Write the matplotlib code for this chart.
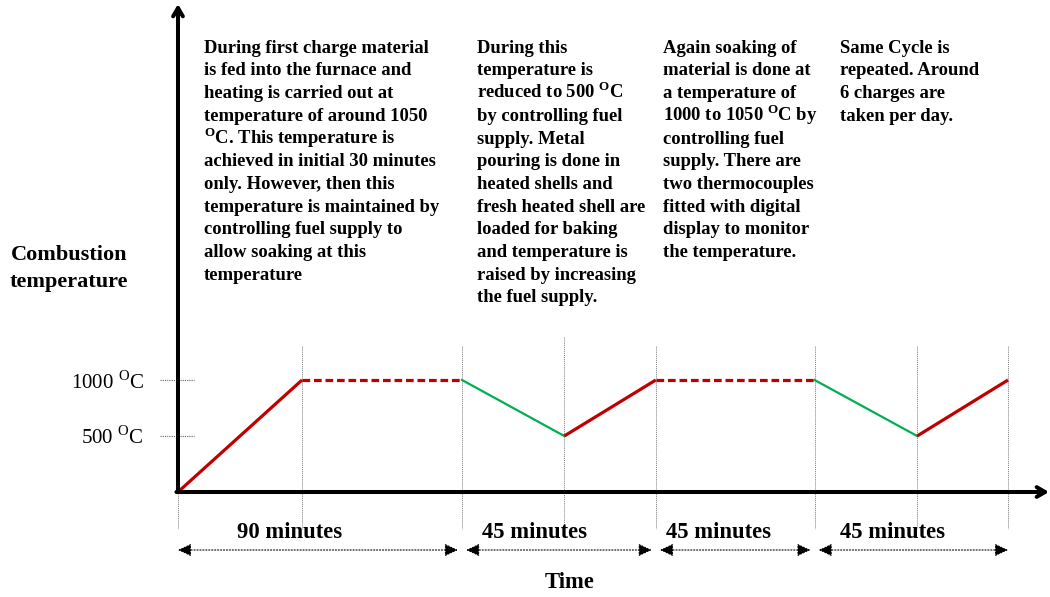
import matplotlib.pyplot as plt

plt.rcParams['font.family'] = 'Liberation Serif'
plt.rcParams['mathtext.fontset'] = 'custom'
plt.rcParams['mathtext.rm'] = 'Liberation Serif'
plt.rcParams['mathtext.bf'] = 'Liberation Serif:bold'

# schematic furnace cycle (time in minutes, temperature in deg C)
times = [0, 39.3, 90, 122.4, 151.4, 201.7, 234.2, 263.0]
temps = [0, 1000, 1000, 500, 1000, 1000, 500, 1000]
phases = ['heat', 'soak', 'cool', 'heat', 'soak', 'cool', 'heat']

span_edges = [0, 90, 151.4, 201.7, 263.0]
span_labels = ['90 minutes', '45 minutes', '45 minutes', '45 minutes']
span_label_x = [290, 535, 719, 892]  # pixel centres of the labels

temp_ticks = [1000, 500]
temp_tick_labels = ['1000 $^{\\mathrm{O}}$C', '500 $^{\\mathrm{O}}$C']

notes = [
    ["During first charge material",
     "is fed into the furnace and",
     "heating is carried out at",
     "temperature of around 1050",
     "$^{\\mathbf{O}}$C. This temperature is",
     "achieved in initial 30 minutes",
     "only. However, then this",
     "temperature is maintained by",
     "controlling fuel supply to",
     "allow soaking at this",
     "temperature"],
    ["During this",
     "temperature is",
     "reduced to 500 $^{\\mathbf{O}}$C",
     "by controlling fuel",
     "supply. Metal",
     "pouring is done in",
     "heated shells and",
     "fresh heated shell are",
     "loaded for baking",
     "and temperature is",
     "raised by increasing",
     "the fuel supply."],
    ["Again soaking of",
     "material is done at",
     "a temperature of",
     "1000 to 1050 $^{\\mathbf{O}}$C by",
     "controlling fuel",
     "supply. There are",
     "two thermocouples",
     "fitted with digital",
     "display to monitor",
     "the temperature."],
    ["Same Cycle is",
     "repeated. Around",
     "6 charges are",
     "taken per day."],
]
note_x = [204, 477, 663, 840]

W, H = 1050, 597
fig = plt.figure(figsize=(W / 100, H / 100), dpi=100)
ax = fig.add_axes([0, 0, 1, 1])
px_per_min = 3.156
px_per_deg = 0.112
x0, y0 = 178, 492
ax.set_xlim(-x0 / px_per_min, (W - x0) / px_per_min)
ax.set_ylim((y0 - H) / px_per_deg, y0 / px_per_deg)
ax.axis('off')


def fx(px):
    return px / W


def fy(py):
    return 1 - py / H


# guide lines
for i, t in enumerate(times):
    top = 0 if i == 0 else (1384 if i == 3 else 1304)
    ax.plot([t, t], [top, -330], color='#808080', lw=0.7, ls=(0, (1, 1)))
for v in temp_ticks:
    ax.plot([-5.7, 5.1], [v, v], color='#606060', lw=0.8, ls=(0, (1, 1)))

# axes with arrows
ax.annotate('', xy=(0, (y0 - 4) / px_per_deg), xytext=(0, 0),
            arrowprops=dict(arrowstyle='->,head_length=0.6,head_width=0.35',
                            lw=2.9, color='black', shrinkA=0, shrinkB=0))
ax.annotate('', xy=((W - x0 - 1) / px_per_min, 0), xytext=(-0.5, 0),
            arrowprops=dict(arrowstyle='->,head_length=0.6,head_width=0.35',
                            lw=2.9, color='black', shrinkA=0, shrinkB=0))

# temperature profile
for i, ph in enumerate(phases):
    xs = times[i:i + 2]
    ys = temps[i:i + 2]
    if ph == 'heat':
        ax.plot(xs, ys, color='#C00000', lw=2.3, solid_capstyle='butt')
    elif ph == 'soak':
        ax.plot(xs, ys, color='#C00000', lw=2.3, dashes=(2.4, 1.2))
    else:
        ax.plot(xs, ys, color='#00B050', lw=1.6)

# duration arrows
arr_y = (y0 - 550) / px_per_deg
for i in range(len(span_labels)):
    a, b = span_edges[i], span_edges[i + 1]
    ax.annotate('', xy=(b, arr_y), xytext=(a, arr_y),
                arrowprops=dict(arrowstyle='<|-|>,head_length=0.8,head_width=0.38',
                                lw=0.8, ls=':', color='black',
                                shrinkA=0 if i == 0 else 3,
                                shrinkB=0 if i == len(span_labels) - 1 else 3))
    fig.text(fx(span_label_x[i]), fy(532), span_labels[i], ha='center', va='center',
             fontsize=16.3, fontweight='bold')

# tick labels
for v, lab in zip(temp_ticks, temp_tick_labels):
    fig.text(fx(144), fy(y0 - v * px_per_deg + 2), lab, ha='right', va='center',
             fontsize=15)

fig.text(fx(69), fy(255), 'Combustion', ha='center', va='center', fontsize=16, fontweight='bold')
fig.text(fx(69), fy(281.5), 'temperature', ha='center', va='center', fontsize=16, fontweight='bold')
fig.text(fx(570), fy(582), 'Time', ha='center', va='center', fontsize=16.3, fontweight='bold')

# notes
for col, xp in zip(notes, note_x):
    for j, line in enumerate(col):
        fig.text(fx(xp), fy(46.7 + 22.7 * j + 6), line, ha='left', va='baseline',
                 fontsize=13.4, fontweight='bold')

fig.savefig('out.png', dpi=100)
